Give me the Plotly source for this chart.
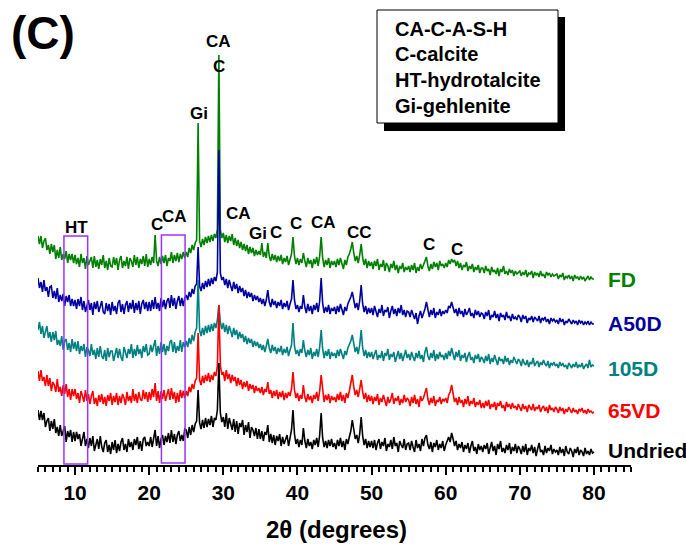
import numpy as np
import plotly.graph_objects as go

# 2-theta sampling grid, 0.2 degree step from 5 to 80
two_theta = np.linspace(5.0, 80.0, 376)

# Intensities (a.u.) for each drying condition, one row per 5 degrees
undried = [
    55, 45, 54, 45, 52, 38, 44, 47, 34, 44, 36, 46, 32, 38, 29, 40, 29, 34, 39, 23, 34, 28, 35, 23, 33,
    24, 33, 26, 31, 19, 28, 33, 19, 26, 17, 27, 19, 29, 14, 22, 26, 16, 29, 18, 13, 22, 25, 13, 20, 11,
    23, 15, 25, 12, 21, 14, 23, 27, 15, 21, 13, 26, 18, 23, 15, 26, 20, 28, 16, 24, 14, 26, 28, 19, 23,
    19, 28, 18, 26, 35, 19, 29, 17, 26, 30, 20, 29, 23, 32, 22, 35, 23, 31, 21, 30, 34, 24, 30, 24, 36,
    35, 27, 38, 30, 40, 33, 41, 44, 75, 42, 36, 45, 37, 47, 38, 46, 40, 49, 38, 47, 45, 55, 102, 52, 43,
    48, 38, 52, 36, 47, 41, 35, 46, 33, 44, 31, 42, 38, 45, 30, 40, 33, 43, 27, 38, 35, 29, 37, 26, 36,
    26, 34, 24, 33, 30, 40, 23, 31, 22, 30, 20, 29, 24, 31, 19, 28, 21, 27, 30, 19, 27, 35, 55, 31, 21,
    26, 18, 25, 20, 37, 24, 17, 26, 19, 23, 16, 25, 20, 27, 18, 30, 52, 27, 18, 24, 17, 25, 19, 26, 18,
    22, 16, 25, 19, 27, 18, 24, 15, 26, 21, 28, 34, 45, 36, 26, 30, 22, 31, 48, 29, 20, 26, 17, 24, 18,
    24, 17, 25, 15, 22, 26, 16, 23, 19, 27, 14, 21, 18, 25, 16, 28, 19, 22, 13, 24, 20, 17, 26, 15, 21,
    22, 15, 24, 18, 13, 25, 17, 21, 14, 26, 19, 27, 30, 20, 16, 23, 13, 22, 18, 25, 15, 21, 17, 24, 14,
    20, 25, 28, 23, 32, 26, 19, 24, 15, 21, 17, 23, 13, 20, 16, 22, 12, 19, 24, 14, 18, 11, 21, 15, 19,
    13, 20, 16, 22, 11, 18, 23, 14, 19, 10, 21, 16, 24, 13, 17, 12, 20, 15, 22, 11, 18, 14, 21, 12, 19,
    16, 11, 19, 13, 21, 10, 17, 14, 20, 12, 18, 9, 16, 22, 13, 15, 10, 19, 12, 17, 14, 20, 11, 16, 13,
    15, 10, 18, 12, 16, 9, 19, 13, 11, 17, 14, 8, 16, 12, 18, 10, 15, 13, 9, 17, 11, 14, 10, 16, 12,
    13,
]

vd65 = [
    49, 39, 50, 39, 43, 34, 45, 34, 42, 29, 38, 35, 28, 41, 28, 33, 24, 35, 26, 36, 23, 31, 20, 31, 24,
    31, 21, 27, 17, 29, 24, 18, 30, 19, 26, 16, 24, 29, 16, 22, 14, 25, 18, 26, 16, 23, 14, 25, 19, 27,
    15, 24, 18, 27, 15, 24, 17, 26, 22, 15, 28, 19, 24, 17, 31, 19, 26, 17, 28, 21, 19, 30, 21, 28, 18,
    28, 20, 31, 23, 37, 19, 29, 17, 29, 21, 30, 19, 26, 31, 20, 32, 21, 28, 17, 27, 18, 30, 22, 29, 22,
    29, 24, 33, 28, 36, 31, 39, 42, 87, 40, 35, 44, 37, 45, 39, 47, 38, 45, 40, 48, 44, 54, 115, 55, 45,
    48, 39, 50, 41, 46, 37, 45, 39, 43, 34, 42, 35, 40, 31, 38, 33, 39, 29, 36, 31, 35, 27, 34, 29, 32,
    27, 33, 25, 31, 28, 38, 26, 30, 22, 29, 24, 30, 21, 28, 23, 29, 20, 27, 22, 28, 24, 31, 48, 30, 22,
    27, 19, 25, 21, 35, 23, 18, 26, 20, 24, 17, 25, 21, 28, 19, 29, 45, 27, 18, 25, 20, 26, 17, 24, 20,
    23, 18, 26, 20, 28, 19, 25, 17, 27, 22, 29, 36, 45, 33, 25, 30, 23, 31, 40, 28, 21, 27, 18, 25, 19,
    24, 16, 23, 19, 26, 15, 22, 18, 25, 20, 14, 23, 17, 21, 27, 16, 22, 19, 24, 15, 21, 17, 25, 18, 22,
    20, 14, 23, 17, 25, 16, 21, 13, 24, 19, 22, 26, 32, 21, 15, 22, 17, 24, 14, 20, 18, 23, 16, 21, 19,
    22, 17, 25, 28, 35, 24, 18, 22, 15, 23, 17, 20, 13, 21, 16, 24, 14, 19, 16, 22, 13, 18, 15, 20, 12,
    17, 12, 19, 14, 20, 11, 16, 13, 18, 10, 17, 14, 19, 12, 15, 9, 18, 13, 16, 11, 17, 12, 14, 10, 16,
    13, 9, 16, 11, 14, 8, 15, 12, 10, 16, 9, 13, 11, 15, 8, 12, 14, 9, 13, 7, 15, 10, 12, 8, 13,
    11, 7, 13, 9, 12, 6, 11, 8, 13, 9, 7, 12, 8, 10, 6, 11, 9, 12, 7, 10, 6, 11, 8, 9, 7,
    8,
]

d105 = [
    45, 53, 41, 49, 37, 45, 49, 37, 43, 33, 43, 35, 44, 30, 35, 29, 39, 25, 34, 36, 25, 32, 23, 36, 26,
    33, 24, 34, 21, 29, 24, 31, 18, 28, 25, 19, 31, 20, 25, 16, 27, 18, 29, 19, 16, 25, 14, 27, 18, 24,
    24, 14, 22, 27, 17, 26, 18, 14, 28, 23, 17, 26, 21, 31, 17, 26, 19, 30, 21, 26, 17, 29, 23, 31, 20,
    21, 30, 23, 28, 35, 19, 29, 21, 33, 23, 31, 20, 29, 24, 33, 35, 23, 33, 22, 29, 24, 35, 23, 33, 28,
    34, 28, 37, 31, 40, 34, 43, 47, 95, 45, 39, 47, 40, 49, 42, 50, 43, 51, 44, 52, 47, 55, 70, 53, 46,
    52, 43, 50, 41, 49, 44, 38, 47, 40, 45, 36, 43, 37, 41, 33, 39, 31, 37, 32, 36, 28, 34, 29, 33, 27,
    31, 25, 30, 23, 29, 36, 27, 22, 30, 24, 28, 21, 27, 23, 29, 20, 26, 22, 28, 19, 25, 30, 52, 29, 21,
    25, 19, 26, 22, 35, 24, 18, 25, 20, 27, 16, 23, 19, 26, 18, 28, 45, 26, 17, 24, 19, 26, 16, 23, 19,
    22, 17, 25, 19, 26, 21, 16, 24, 20, 27, 30, 34, 40, 31, 23, 28, 21, 30, 45, 27, 19, 25, 17, 23, 18,
    23, 16, 21, 25, 15, 20, 17, 24, 14, 22, 19, 26, 15, 21, 18, 23, 13, 20, 24, 16, 22, 14, 19, 25, 17,
    21, 15, 23, 18, 14, 22, 17, 24, 16, 20, 13, 23, 28, 19, 15, 22, 17, 25, 14, 21, 16, 23, 18, 20, 15,
    22, 16, 24, 19, 27, 21, 15, 23, 18, 25, 14, 20, 17, 22, 13, 19, 23, 15, 18, 12, 20, 16, 21, 13, 18,
    16, 12, 19, 14, 21, 11, 17, 13, 20, 15, 10, 18, 14, 16, 11, 19, 13, 17, 10, 15, 12, 18, 14, 11, 16,
    14, 9, 16, 12, 10, 15, 8, 13, 11, 17, 9, 12, 14, 8, 13, 10, 15, 11, 9, 14, 7, 12, 10, 13, 9,
    11, 7, 13, 9, 12, 8, 10, 6, 12, 9, 7, 11, 8, 13, 7, 10, 8, 12, 6, 9, 11, 7, 15, 8, 10,
    9,
]

a50d = [
    52, 42, 48, 38, 50, 39, 43, 33, 43, 44, 32, 39, 31, 42, 28, 35, 29, 36, 24, 34, 28, 35, 24, 31, 24,
    30, 21, 31, 24, 33, 20, 29, 18, 25, 30, 20, 27, 15, 28, 21, 29, 18, 24, 29, 18, 16, 27, 19, 26, 15,
    28, 19, 24, 16, 27, 30, 18, 26, 16, 25, 29, 18, 27, 21, 30, 17, 27, 20, 29, 16, 26, 30, 21, 28, 19,
    28, 19, 30, 21, 33, 21, 27, 19, 32, 23, 30, 21, 29, 32, 22, 35, 24, 32, 21, 29, 34, 24, 32, 24, 32,
    35, 30, 38, 33, 41, 36, 44, 46, 83, 44, 39, 47, 41, 49, 43, 51, 44, 52, 46, 53, 49, 58, 180, 57, 50,
    53, 45, 51, 42, 50, 44, 39, 48, 41, 46, 37, 44, 38, 42, 34, 40, 32, 38, 33, 37, 29, 35, 30, 34, 28,
    32, 26, 31, 24, 30, 40, 28, 23, 31, 25, 29, 22, 28, 24, 30, 21, 27, 23, 29, 20, 26, 31, 50, 30, 21,
    25, 18, 24, 21, 35, 23, 17, 26, 19, 24, 16, 25, 20, 27, 18, 29, 52, 27, 17, 23, 18, 25, 16, 22, 19,
    23, 16, 24, 18, 26, 20, 15, 23, 19, 26, 29, 33, 38, 30, 22, 27, 20, 29, 45, 26, 18, 24, 16, 22, 17,
    22, 15, 24, 19, 13, 21, 17, 25, 14, 20, 18, 23, 12, 19, 24, 16, 21, 14, 22, 17, 25, 15, 20, 13, 19,
    18, 13, 20, 15, 11, 17, 6, 14, 19, 12, 16, 21, 28, 18, 13, 20, 15, 22, 12, 18, 15, 21, 14, 19, 16,
    20, 17, 24, 22, 28, 23, 17, 21, 14, 22, 16, 19, 13, 21, 15, 18, 22, 14, 17, 12, 20, 15, 19, 13, 17,
    16, 11, 18, 14, 20, 10, 15, 13, 19, 12, 16, 9, 17, 13, 15, 10, 18, 12, 14, 9, 16, 11, 13, 10, 15,
    13, 8, 15, 11, 14, 7, 12, 10, 14, 8, 13, 11, 9, 14, 7, 12, 10, 13, 8, 11, 6, 12, 9, 11, 8,
    10, 6, 12, 8, 11, 5, 9, 7, 11, 8, 6, 10, 7, 9, 5, 10, 7, 9, 5, 8, 6, 9, 5, 8, 6,
    6,
]

fd = [
    49, 41, 49, 37, 44, 47, 35, 40, 31, 41, 33, 40, 26, 35, 27, 38, 25, 31, 26, 34, 22, 31, 25, 31, 22,
    30, 21, 27, 18, 31, 22, 27, 16, 29, 20, 25, 28, 17, 29, 18, 25, 16, 26, 20, 30, 17, 24, 15, 27, 19,
    18, 28, 20, 27, 15, 25, 29, 17, 24, 19, 28, 16, 27, 24, 18, 30, 20, 28, 17, 26, 21, 29, 19, 31, 18,
    26, 20, 28, 22, 50, 24, 19, 28, 21, 29, 22, 30, 19, 27, 24, 33, 22, 30, 24, 32, 23, 31, 26, 33, 27,
    33, 28, 37, 32, 40, 35, 42, 45, 162, 44, 38, 46, 40, 48, 42, 49, 43, 50, 44, 51, 47, 56, 230, 55, 47,
    52, 43, 50, 42, 49, 44, 51, 40, 47, 39, 45, 37, 43, 35, 41, 34, 40, 31, 38, 32, 37, 29, 35, 30, 34,
    30, 42, 28, 33, 27, 42, 29, 24, 31, 25, 30, 23, 29, 24, 30, 21, 27, 23, 29, 20, 26, 31, 48, 29, 21,
    27, 20, 26, 22, 32, 24, 18, 27, 21, 25, 17, 26, 21, 28, 19, 29, 48, 27, 18, 25, 20, 27, 17, 24, 20,
    24, 18, 26, 20, 27, 21, 16, 25, 20, 28, 31, 36, 43, 32, 24, 29, 22, 30, 41, 27, 20, 26, 17, 24, 19,
    23, 16, 24, 19, 26, 15, 21, 18, 25, 14, 22, 19, 13, 21, 17, 24, 15, 20, 12, 19, 16, 22, 13, 18, 15,
    19, 13, 20, 15, 22, 12, 18, 14, 21, 16, 20, 23, 28, 19, 14, 21, 16, 23, 18, 22, 15, 24, 19, 21, 17,
    22, 18, 25, 21, 26, 23, 25, 19, 24, 17, 22, 15, 20, 18, 23, 14, 19, 16, 21, 13, 18, 15, 20, 12, 17,
    17, 12, 19, 14, 16, 10, 18, 13, 15, 11, 17, 9, 16, 13, 19, 11, 14, 10, 16, 12, 15, 9, 14, 11, 13,
    14, 9, 13, 10, 15, 8, 12, 11, 14, 7, 13, 10, 12, 8, 14, 9, 11, 7, 13, 10, 12, 8, 11, 9, 10,
    11, 6, 10, 8, 12, 5, 9, 7, 10, 6, 9, 4, 10, 7, 8, 5, 9, 6, 8, 4, 7, 9, 5, 8, 6,
    6,
]

# Stacking order (drawn back to front), vertical offsets and colours
series_names = ["FD", "A50D", "105D", "65VD", "Undried"]
series_values = [fd, a50d, d105, vd65, undried]
series_offsets = [180, 135, 90, 45, 0]
series_colors = ["#008000", "#0000A0", "#008080", "#FF0000", "#000000"]
label_levels = [186, 142, 97, 55, 15]

# Phase labels above the reflections: (text, 2-theta, height)
phase_labels = [
    ("CA", 29.37, 424), ("C", 29.37, 399), ("Gi", 26.67, 352),
    ("HT", 10.2, 238), ("C", 21.0, 241), ("CA", 23.43, 249),
    ("CA", 32.07, 252), ("Gi", 34.64, 232), ("C", 37.07, 233),
    ("C", 39.77, 242), ("CA", 43.55, 243), ("CC", 48.4, 233),
    ("C", 57.7, 221), ("C", 61.5, 216),
]

# Highlighted 2-theta windows (hydrotalcite and C-A-S-H regions)
windows = [(8.5, 11.7, 1, 229), (21.65, 24.84, 2, 230)]

key_lines = ["CA-C-A-S-H", "C-calcite", "HT-hydrotalcite", "Gi-gehlenite"]

for v in series_values:
    assert len(v) == len(two_theta), len(v)

FONT = "Liberation Sans"
L, R, T, B = 38, 55, 0, 85
W, H = 686, 550
PW, PH = W - L - R, H - T - B


def px_to_paper_x(p):
    return (p - L) / PW


def px_to_paper_y(p):
    return (H - B - p) / PH


fig = go.Figure()
for name, vals, off, col in zip(series_names, series_values, series_offsets, series_colors):
    fig.add_trace(go.Scatter(
        x=two_theta, y=np.asarray(vals) + off, mode="lines", name=name,
        line=dict(color=col, width=1.6), showlegend=False, hoverinfo="skip",
    ))

annotations = []
for name, lvl, col in zip(series_names, label_levels, series_colors):
    annotations.append(dict(
        x=81.6, y=lvl, xref="x", yref="y", text=name, showarrow=False,
        xanchor="left", yanchor="middle",
        font=dict(family=FONT, size=21, color=col, weight="bold"),
    ))
for txt, xx, yy in phase_labels:
    annotations.append(dict(
        x=xx, y=yy, xref="x", yref="y", text=txt, showarrow=False,
        xanchor="center", yanchor="middle",
        font=dict(family=FONT, size=17, color="black", weight="bold"),
    ))

# Key box text
for i, line in enumerate(key_lines):
    annotations.append(dict(
        x=px_to_paper_x(393), y=px_to_paper_y(29 + 25.5 * i), xref="paper", yref="paper",
        text=line, showarrow=False, xanchor="left", yanchor="middle",
        font=dict(family=FONT, size=20, color="black", weight="bold"),
    ))

# Panel letter and axis title
annotations.append(dict(
    x=px_to_paper_x(9), y=px_to_paper_y(33), xref="paper", yref="paper",
    text="(C)", showarrow=False, xanchor="left", yanchor="middle",
    font=dict(family=FONT, size=46, color="black", weight="bold"),
))
annotations.append(dict(
    x=px_to_paper_x(336), y=px_to_paper_y(530), xref="paper", yref="paper",
    text="2θ (degrees)", showarrow=False, xanchor="center", yanchor="middle",
    font=dict(family=FONT, size=24, color="black", weight="bold"),
))

shapes = []
for x0, x1, y0, y1 in windows:
    shapes.append(dict(
        type="rect", xref="x", yref="y", x0=x0, x1=x1, y0=y0, y1=y1,
        line=dict(color="#9933FF", width=1.5), layer="above",
    ))
# Key box with drop shadow
shapes.append(dict(
    type="rect", xref="paper", yref="paper",
    x0=px_to_paper_x(384), x1=px_to_paper_x(565),
    y0=px_to_paper_y(131), y1=px_to_paper_y(17),
    fillcolor="black", line=dict(width=0), layer="above",
))
shapes.append(dict(
    type="rect", xref="paper", yref="paper",
    x0=px_to_paper_x(377), x1=px_to_paper_x(558),
    y0=px_to_paper_y(123), y1=px_to_paper_y(10),
    fillcolor="white", line=dict(color="black", width=1), layer="above",
))

fig.update_layout(
    width=W, height=H,
    margin=dict(l=L, r=R, t=T, b=B),
    paper_bgcolor="white", plot_bgcolor="white",
    annotations=annotations, shapes=shapes,
    xaxis=dict(
        range=[5, 85], tick0=0, dtick=10, ticks="outside", ticklen=8, tickwidth=2,
        tickcolor="black", showline=True, linecolor="black", linewidth=2,
        showgrid=False, zeroline=False,
        tickfont=dict(family=FONT, size=21, color="black", weight="bold"),
        minor=dict(dtick=1, ticks="outside", ticklen=5, tickwidth=1.5, tickcolor="black", showgrid=False),
    ),
    yaxis=dict(range=[0, PH], visible=False, showgrid=False, zeroline=False),
)

fig.write_html("out.html")
